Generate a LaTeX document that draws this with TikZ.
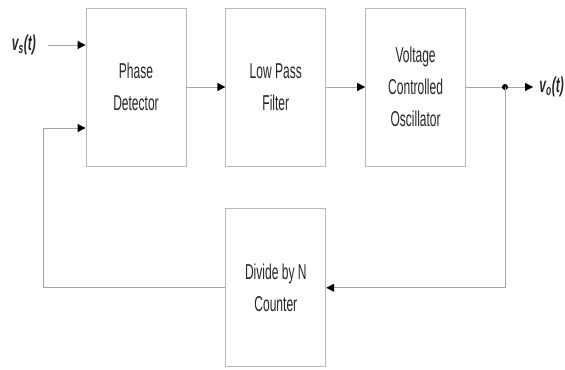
\documentclass[tikz,border=0pt]{standalone}
\usepackage{fontspec}
\setmainfont[FakeStretch=0.56]{Liberation Sans}
\usepackage{tikz}
\usetikzlibrary{arrows.meta,positioning}

\begin{document}
\begin{tikzpicture}[x=1bp,y=1bp,node distance=39bp,line width=0.8bp,
  >={Triangle[length=8bp,width=8bp,color=black]},
  every node/.style={font=\fontsize{21.5bp}{32bp}\selectfont,text=black!85},
  block/.style={draw=gray!55,minimum width=100bp,minimum height=158bp,align=center}]
\useasboundingbox (0,0) rectangle (565,369);
% forward path
\node[block] (pd) at (136,282) {Phase\\Detector};
\node[block,right=of pd] (lpf) {Low Pass\\Filter};
\node[block,right=of lpf] (vco) {Voltage\\Controlled\\Oscillator};
\node[block,below=42bp of lpf] (div) {Divide by N\\Counter};
\coordinate (in) at ([yshift=42bp]pd.west);
\coordinate (fbin) at ([yshift=-41bp]pd.west);
\coordinate (tap) at ([xshift=39bp]vco.east);
\coordinate (out) at ([xshift=28bp]tap);
\node[anchor=east,font=\fontsize{21.5bp}{24bp}\selectfont\bfseries\itshape] (vs) at ([xshift=-46bp]in) {v\textsubscript{s}(t)};
\node[anchor=west,inner sep=1bp,font=\fontsize{21.5bp}{24bp}\selectfont\bfseries\itshape] (vo) at ([xshift=5bp]out) {v\textsubscript{o}(t)};
\draw[->,gray!70] ([xshift=8bp]in -| vs.east) -- (in);
\draw[->,gray!70] (pd) -- (lpf);
\draw[->,gray!70] (lpf) -- (vco);
\draw[->,gray!70] (vco) -- (out);
\fill (tap) circle (3bp);
% feedback loop
\draw[->,gray!70] (tap) |- (div.east);
\draw[->,gray!70] (div.west) -| ([xshift=-42bp]fbin) -- (fbin);
\end{tikzpicture}
\end{document}
